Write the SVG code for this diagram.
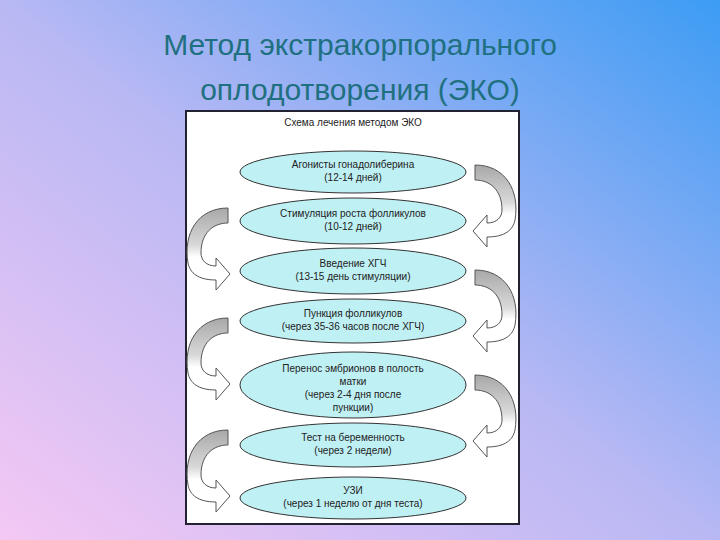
<svg xmlns="http://www.w3.org/2000/svg" xmlns:xlink="http://www.w3.org/1999/xlink" width="720" height="540" viewBox="0 0 720 540">
<defs>
<linearGradient id="bg" x1="0" y1="1" x2="1" y2="0">
<stop offset="0" stop-color="#f4c8f4"/><stop offset="0.5" stop-color="#b8b8f4"/><stop offset="1" stop-color="#3c9cf4"/>
</linearGradient>
<linearGradient id="ag" x1="0" y1="0" x2="0" y2="1">
<stop offset="0" stop-color="#a8a8a8"/><stop offset="0.45" stop-color="#d8d8d8"/><stop offset="0.6" stop-color="#ffffff"/><stop offset="1" stop-color="#ffffff"/>
</linearGradient>
<path id="arr" d="M0,0 C30,0 45,25 40,55 C38,65 30,72 12,72 L12,82 L-2,66 L12,50 L12,58 C22,58 27,52 27,45 C27,25 15,15 0,15 Z" fill="url(#ag)" stroke="#555" stroke-width="1"/>
<style>
.e{fill:#bff0f4;stroke:#333;stroke-width:1}
.t{font-family:"Liberation Sans",Arial,sans-serif;font-size:10px;fill:#222;text-anchor:middle}
</style>
</defs>
<rect width="720" height="540" fill="url(#bg)"/>
<text x="360" y="55" font-family="Liberation Sans,Arial,sans-serif" font-size="30" fill="#1f7080" text-anchor="middle">Метод экстракорпорального</text>
<text x="360" y="100" font-family="Liberation Sans,Arial,sans-serif" font-size="30" fill="#1f7080" text-anchor="middle">оплодотворения (ЭКО)</text>
<rect x="186" y="111" width="333" height="413" fill="#fff" stroke="#223" stroke-width="2"/>
<text class="t" x="353" y="126">Схема лечения методом ЭКО</text>
<g id="connectors">
<use xlink:href="#arr" transform="translate(475,165)"/>
<use xlink:href="#arr" transform="translate(475,270)"/>
<use xlink:href="#arr" transform="translate(475,375)"/>
<use xlink:href="#arr" transform="translate(228,208) scale(-1,1)"/>
<use xlink:href="#arr" transform="translate(228,318) scale(-1,1)"/>
<use xlink:href="#arr" transform="translate(228,430) scale(-1,1)"/>
</g>
<g id="n1"><ellipse class="e" cx="353" cy="172" rx="113" ry="21"/><text class="t" x="353" y="168">Агонисты гонадолиберина</text><text class="t" x="353" y="181">(12-14 дней)</text></g>
<g id="n2"><ellipse class="e" cx="353" cy="221" rx="113" ry="23"/><text class="t" x="353" y="217">Стимуляция роста фолликулов</text><text class="t" x="353" y="230">(10-12 дней)</text></g>
<g id="n3"><ellipse class="e" cx="353" cy="271" rx="113" ry="23"/><text class="t" x="353" y="267">Введение ХГЧ</text><text class="t" x="353" y="280">(13-15 день стимуляции)</text></g>
<g id="n4"><ellipse class="e" cx="353" cy="321" rx="113" ry="22"/><text class="t" x="353" y="317">Пункция фолликулов</text><text class="t" x="353" y="330">(через 35-36 часов после ХГЧ)</text></g>
<g id="n5"><ellipse class="e" cx="353" cy="385" rx="113" ry="33"/><text class="t" x="353" y="372">Перенос эмбрионов в полость</text><text class="t" x="353" y="385">матки</text><text class="t" x="353" y="398">(через 2-4 дня после</text><text class="t" x="353" y="411">пункции)</text></g>
<g id="n6"><ellipse class="e" cx="353" cy="445" rx="113" ry="22"/><text class="t" x="353" y="441">Тест на беременность</text><text class="t" x="353" y="454">(через 2 недели)</text></g>
<g id="n7"><ellipse class="e" cx="353" cy="498" rx="113" ry="21"/><text class="t" x="353" y="494">УЗИ</text><text class="t" x="353" y="507">(через 1 неделю от дня теста)</text></g>
</svg>
